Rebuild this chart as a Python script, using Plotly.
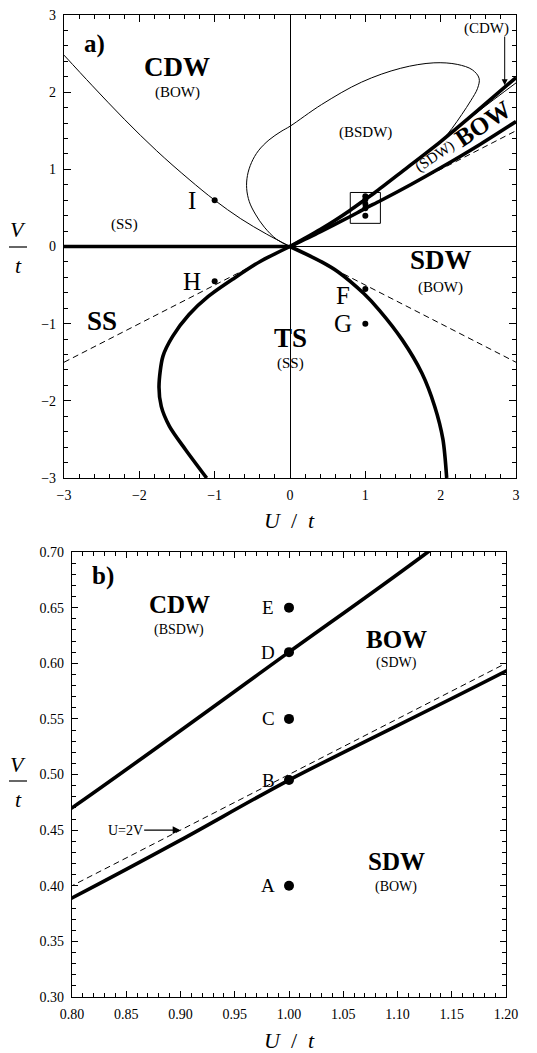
import plotly.graph_objects as go

# ---- panel a) : full U-V plane ----
u_lim_a = [-3, 3]
v_lim_a = [-3, 3]

# thick SS/CDW boundary on V=0 for attractive U
ss_cdw_u = [-3.0, 0.0]
ss_cdw_v = [0.0, 0.0]

# thick CDW / BOW boundary
cdw_bow_u = [0.0, 0.4, 0.6, 0.8, 1.0, 1.128, 1.5, 2.0, 2.5, 3.0]
cdw_bow_v = [0.0, 0.22, 0.34, 0.47, 0.61, 0.70, 0.98, 1.36, 1.77, 2.19]

# thick BOW / SDW boundary
bow_sdw_u = [0.0, 0.4, 0.8, 0.9, 1.0, 1.2, 1.6, 2.0, 2.5, 3.0]
bow_sdw_v = [0.0, 0.19, 0.389, 0.441, 0.495, 0.593, 0.80, 1.02, 1.31, 1.62]

# thick TS / SDW boundary
ts_sdw_u = [0.0, 0.42, 0.64, 0.98, 1.19, 1.49, 1.75, 1.92, 2.03, 2.08]
ts_sdw_v = [0.0, -0.20, -0.33, -0.61, -0.83, -1.21, -1.64, -2.07, -2.5, -3.0]

# thick TS / SS boundary
ts_ss_u = [0.0, -0.396, -0.74, -1.085, -1.343, -1.558, -1.687, -1.739, -1.709, -1.60, -1.386, -1.106]
ts_ss_v = [0.0, -0.194, -0.41, -0.647, -0.885, -1.165, -1.424, -1.813, -2.072, -2.33, -2.633, -3.0]

# thin CDW / (SS) crossover
cdw_ss_u = [-3.0, -2.63, -2.2, -1.77, -1.34, -1.0, -0.654, -0.31, 0.0]
cdw_ss_v = [2.48, 2.09, 1.65, 1.24, 0.87, 0.60, 0.36, 0.16, 0.0]

# thin (BSDW) loop and the (CDW) sliver line
bsdw_u = [0.0, -0.18, -0.34, -0.46, -0.54, -0.575, -0.565, -0.51, -0.42, -0.28, -0.12, 0.0,
          0.42, 0.95, 1.47, 1.91, 2.22, 2.42, 2.51, 2.49, 2.40, 2.28, 2.15, 2.02]
bsdw_v = [0.0, 0.095, 0.25, 0.42, 0.58, 0.75, 0.92, 1.09, 1.24, 1.38, 1.49, 1.558,
          1.84, 2.13, 2.31, 2.38, 2.36, 2.29, 2.18, 2.05, 1.89, 1.71, 1.53, 1.37]
sliver_u = [2.02, 2.5, 3.0]
sliver_v = [1.37, 1.75, 2.12]

# dashed U=2V and U=-2V lines
u2v_u = [-3.0, 3.0]
u2v_v = [-1.5, 1.5]
um2v_u = [0.0, 3.0]
um2v_v = [0.0, -1.5]

# marked points
pts_a_u = [1.0, 1.0, -1.0, -1.0]
pts_a_v = [-0.55, -1.0, -0.45, 0.6]
pts_a_lbl = ["F", "G", "H", "I"]

# ---- panel b) : zoom of the box ----
u_lim_b = [0.8, 1.2]
v_lim_b = [0.3, 0.7]
pts_b_u = [1.0, 1.0, 1.0, 1.0, 1.0]
pts_b_v = [0.40, 0.495, 0.55, 0.61, 0.65]
pts_b_lbl = ["A", "B", "C", "D", "E"]

FONT = "Liberation Serif"
# page body has an 8px margin, so the figure is 8px smaller than the window
OFF = 8
W, H = 537 - OFF, 1053 - OFF


def px(x):
    return (x - OFF) / W


def py(y):
    return 1 - (y - OFF) / H


fig = go.Figure()


def thick(u, v, xa, ya):
    fig.add_trace(go.Scatter(x=u, y=v, mode="lines", xaxis=xa, yaxis=ya,
                             line=dict(color="black", width=3.6, shape="spline", smoothing=0.8),
                             hoverinfo="skip"))


def thin(u, v, xa, ya, dash="solid"):
    fig.add_trace(go.Scatter(x=u, y=v, mode="lines", xaxis=xa, yaxis=ya,
                             line=dict(color="black", width=1, dash=dash, shape="spline", smoothing=1.0),
                             hoverinfo="skip"))


# panel a curves
thin(u2v_u, u2v_v, "x", "y", dash="6px,4px")
thin(um2v_u, um2v_v, "x", "y", dash="6px,4px")
thin(cdw_ss_u, cdw_ss_v, "x", "y")
thin(bsdw_u, bsdw_v, "x", "y")
thin(sliver_u, sliver_v, "x", "y")
thick(ss_cdw_u, ss_cdw_v, "x", "y")
thick(cdw_bow_u, cdw_bow_v, "x", "y")
thick(bow_sdw_u, bow_sdw_v, "x", "y")
thick(ts_sdw_u, ts_sdw_v, "x", "y")
thick(ts_ss_u, ts_ss_v, "x", "y")
fig.add_trace(go.Scatter(x=pts_a_u + pts_b_u, y=pts_a_v + pts_b_v, mode="markers",
                         marker=dict(color="black", size=6), xaxis="x", yaxis="y", hoverinfo="skip"))

# panel b curves
thin(u2v_u, u2v_v, "x2", "y2", dash="6px,4px")
thick(cdw_bow_u, cdw_bow_v, "x2", "y2")
thick(bow_sdw_u, bow_sdw_v, "x2", "y2")
fig.add_trace(go.Scatter(x=pts_b_u, y=pts_b_v, mode="markers",
                         marker=dict(color="black", size=10), xaxis="x2", yaxis="y2", hoverinfo="skip",
                         cliponaxis=False))

ann = []


def label(x, y, text, size, xa="x", ya="y", angle=0):
    ann.append(dict(x=x, y=y, xref=xa, yref=ya, text=text, showarrow=False, textangle=angle,
                    xanchor="center", yanchor="middle",
                    font=dict(family=FONT, size=size, color="black")))


# panel a labels
label(-2.6, 2.62, "<b>a)</b>", 25)
label(-1.5, 2.33, "<b>CDW</b>", 27)
label(-1.5, 2.0, "(BOW)", 15)
label(1.0, 1.48, "(BSDW)", 15)
label(2.61, 2.83, "(CDW)", 15)
label(2.56, 1.6, "<b>BOW</b>", 25, angle=-34)
label(1.92, 1.17, "(SDW)", 15, angle=-34)
label(-2.2, 0.29, "(SS)", 15)
label(2.0, -0.18, "<b>SDW</b>", 27)
label(2.0, -0.53, "(BOW)", 15)
label(-2.5, -0.97, "<b>SS</b>", 27)
label(0.0, -1.19, "<b>TS</b>", 27)
label(0.0, -1.52, "(SS)", 15)
for u, v, t in zip(pts_a_u, pts_a_v, pts_a_lbl):
    dv = -0.08 if t == "F" else 0.0
    label(u - 0.3, v + dv, t, 25)

# arrow to the thin (CDW) sliver
ann.append(dict(x=2.85, y=2.09, ax=2.85, ay=2.74, xref="x", yref="y", axref="x", ayref="y",
                text="", showarrow=True, arrowhead=2, arrowsize=1.2, arrowwidth=1, arrowcolor="black",
                standoff=0))

# panel b labels
label(0.829, 0.678, "<b>b)</b>", 25, "x2", "y2")
label(0.899, 0.653, "<b>CDW</b>", 25, "x2", "y2")
label(0.899, 0.630, "(BSDW)", 14, "x2", "y2")
label(1.099, 0.621, "<b>BOW</b>", 25, "x2", "y2")
label(1.099, 0.600, "(SDW)", 14, "x2", "y2")
label(1.099, 0.422, "<b>SDW</b>", 25, "x2", "y2")
label(1.099, 0.399, "(BOW)", 14, "x2", "y2")
for u, v, t in zip(pts_b_u, pts_b_v, pts_b_lbl):
    label(u - 0.019, v, t, 19, "x2", "y2")
ann.append(dict(x=0.9, y=0.45, ax=0.849, ay=0.45, xref="x2", yref="y2", axref="x2", ayref="y2",
                text="U=2V", showarrow=True, arrowhead=2, arrowsize=1.3, arrowwidth=1.2,
                arrowcolor="black", standoff=0, font=dict(family=FONT, size=14, color="black")))

# axis titles (paper coords)
for yc in [520, 1040]:
    ann.append(dict(x=px(289), y=py(yc), xref="paper", yref="paper", xanchor="center",
                    yanchor="middle", text="<i>U</i>  /  <i>t</i>", showarrow=False,
                    font=dict(family=FONT, size=22, color="black")))
shapes = []
for ybar in [247, 781]:
    ann.append(dict(x=px(18), y=py(ybar - 17), xref="paper", yref="paper", text="<i>V</i>",
                    xanchor="center", yanchor="middle",
                    showarrow=False, font=dict(family=FONT, size=22, color="black")))
    ann.append(dict(x=px(18), y=py(ybar + 18), xref="paper", yref="paper", text="<i>t</i>",
                    xanchor="center", yanchor="middle",
                    showarrow=False, font=dict(family=FONT, size=22, color="black")))
    shapes.append(dict(type="line", xref="paper", yref="paper", x0=px(9), x1=px(27),
                       y0=py(ybar), y1=py(ybar), line=dict(color="black", width=1.2)))

# zoom box drawn in panel a
shapes.append(dict(type="rect", xref="x", yref="y", x0=u_lim_b[0], x1=u_lim_b[1],
                   y0=v_lim_b[0], y1=v_lim_b[1], line=dict(color="black", width=1)))


def axis(dom, rng, anchor, tick0, dtick, dtick_minor, zl, fmt=None, ticklen=7):
    d = dict(domain=dom, range=rng, anchor=anchor, tickmode="linear", tick0=tick0, dtick=dtick,
             ticks="inside", ticklen=ticklen, automargin=False, ticklabeloverflow="allow",
             tickwidth=1, tickcolor="black", mirror="ticks", showline=True, linewidth=1.3,
             linecolor="black", showgrid=False, zeroline=zl, zerolinecolor="black", zerolinewidth=1,
             tickfont=dict(family=FONT, size=14, color="black"), ticklabelstandoff=4,
             minor=dict(dtick=dtick_minor, ticks="inside", ticklen=4, tickwidth=1, tickcolor="black",
                        showgrid=False))
    if fmt:
        d["tickformat"] = fmt
    return d


fig.update_layout(
    width=W, height=H, margin=dict(l=0, r=0, t=0, b=0, autoexpand=False),
    paper_bgcolor="white", plot_bgcolor="white", showlegend=False,
    xaxis=axis([px(64), px(516)], u_lim_a, "y", 0, 1, 0.2, True),
    yaxis=axis([py(478), py(15)], v_lim_a, "x", 0, 1, 0.2, True),
    xaxis2=axis([px(72), px(506)], u_lim_b, "y2", 0.8, 0.05, 0.01, False, ".2f", 6),
    yaxis2=axis([py(997), py(552)], v_lim_b, "x2", 0.3, 0.05, 0.01, False, ".2f", 6),
    annotations=ann, shapes=shapes,
)

fig.write_html("out.html")
